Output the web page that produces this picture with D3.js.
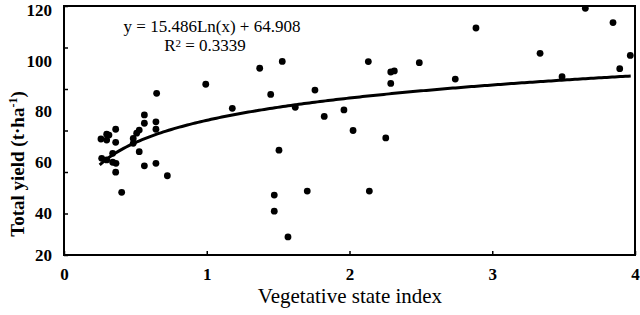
<!DOCTYPE html>
<html>
<head>
<meta charset="utf-8">
<script src="https://cdn.jsdelivr.net/npm/d3@7"></script>
<style>
  html, body { margin: 0; padding: 0; background: #fff; }
  svg { display: block; }
  text { font-family: "Liberation Serif", "Times New Roman", serif; fill: #000; }
</style>
</head>
<body>
<script>
// ---- data ----
const xValues = [
  0.259, 0.299, 0.315, 0.299, 0.362, 0.362, 0.264, 0.299, 0.341, 0.341,
  0.364, 0.362, 0.404, 0.485, 0.485, 0.509, 0.527, 0.563, 0.563, 0.644,
  0.644, 0.527, 0.563, 0.644, 0.724, 0.649,
  0.993, 1.179, 1.371, 1.529, 1.448, 1.620, 1.758, 1.823, 1.961, 2.025,
  2.254, 2.132, 2.289, 2.314, 2.289, 1.506, 1.473, 1.473, 1.704, 2.139,
  1.569, 2.489, 2.741, 2.886, 3.335, 3.489, 3.652, 3.846, 3.893, 3.967
];
const yValues = [
  55.9, 58.2, 57.8, 55.4, 60.6, 54.3, 46.6, 45.8, 49.0, 44.7,
  44.2, 39.9, 30.2, 53.8, 56.2, 58.7, 60.2, 63.5, 67.5, 64.2,
  60.6, 49.8, 43.0, 44.2, 38.2, 77.9,
  82.3, 70.7, 90.0, 93.3, 77.4, 71.2, 79.5, 66.8, 69.9, 60.0,
  56.4, 93.2, 88.2, 88.7, 82.7, 50.5, 28.9, 21.1, 30.8, 30.8,
  8.7, 92.7, 84.8, 109.4, 97.2, 85.9, 118.9, 112.0, 89.8, 96.2
];
const xTicks = [0, 1, 2, 3, 4];
const yTicks = [0, 20, 40, 60, 80, 100, 120];
const yTickLabels = [20, 40, 60, 80, 100, 120];
const fitSlope = 15.486;
const fitIntercept = 64.908;
const fitXRange = [0.25, 3.97];
const equationText = "y = 15.486Ln(x) + 64.908";
const r2Value = "0.3339";

// ---- layout ----
const W = 640, H = 315;
const mLeft = 64, mRight = 635, mTop = 6, mBottom = 255;

const svg = d3.select("body").append("svg").attr("width", W).attr("height", H);

const x = d3.scaleLinear().domain([0, 4]).range([mLeft, mRight]);
const y = d3.scaleLinear().domain([0, 120]).range([mBottom, mTop]);
// printed tick labels sit at their own positions in the reference
const yLab = d3.scaleLinear().domain([20, 40, 120]).range([255, 213, 10]);

// frame
svg.append("rect")
  .attr("x", mLeft).attr("y", mTop)
  .attr("width", mRight - mLeft).attr("height", mBottom - mTop)
  .attr("fill", "none").attr("stroke", "#000").attr("stroke-width", 2);

// inward tick marks
const gy = svg.append("g").attr("transform", `translate(${mLeft},0)`)
  .call(d3.axisLeft(y).tickValues(yTicks).tickSize(-4).tickFormat(""));
gy.select(".domain").remove();
gy.selectAll(".tick line").attr("stroke", "#000").attr("stroke-width", 1.5);

const gx = svg.append("g").attr("transform", `translate(0,${mBottom})`)
  .call(d3.axisBottom(x).tickValues(xTicks).tickSize(-4).tickFormat(""));
gx.select(".domain").remove();
gx.selectAll(".tick line").attr("stroke", "#000").attr("stroke-width", 1.5);

// y tick labels
const gyl = svg.append("g").attr("transform", `translate(${mLeft},0)`)
  .call(d3.axisLeft(yLab).tickValues(yTickLabels).tickSize(0).tickPadding(12));
gyl.select(".domain").remove();
gyl.selectAll("text")
  .style("font-family", '"Liberation Serif", "Times New Roman", serif')
  .style("font-size", "17px").style("font-weight", "bold").attr("fill", "#000");

// x tick labels
const gxl = svg.append("g").attr("transform", `translate(0,${mBottom})`)
  .call(d3.axisBottom(x).tickValues(xTicks).tickSize(0).tickPadding(13).tickFormat(d3.format("d")));
gxl.select(".domain").remove();
gxl.selectAll("text")
  .style("font-family", '"Liberation Serif", "Times New Roman", serif')
  .style("font-size", "17px").style("font-weight", "bold").attr("fill", "#000");

// trend line from the printed equation
const fitXs = d3.range(0, 201).map(i => fitXRange[0] + (fitXRange[1] - fitXRange[0]) * i / 200);
const line = d3.line().x(d => x(d)).y(d => y(fitSlope * Math.log(d) + fitIntercept));
svg.append("path").datum(fitXs)
  .attr("d", line).attr("fill", "none")
  .attr("stroke", "#000").attr("stroke-width", 3);

// points
svg.append("g").selectAll("circle")
  .data(xValues.map((v, i) => [v, yValues[i]]))
  .join("circle")
  .attr("cx", d => x(d[0])).attr("cy", d => y(d[1]))
  .attr("r", 3.4).attr("fill", "#000");

// equation
svg.append("text").attr("x", 212).attr("y", 32)
  .attr("text-anchor", "middle").style("font-size", "17px")
  .text(equationText);
const r2 = svg.append("text").attr("x", 205).attr("y", 51)
  .attr("text-anchor", "middle").style("font-size", "17px");
r2.append("tspan").text("R");
r2.append("tspan").text("2").style("font-size", "11px").attr("dy", -4);
r2.append("tspan").text(" = " + r2Value).attr("dy", 4);

// axis titles
svg.append("text").attr("x", 350).attr("y", 303)
  .attr("text-anchor", "middle").style("font-size", "21px")
  .text("Vegetative state index");

const yt = svg.append("text")
  .attr("transform", "translate(24,164) rotate(-90)")
  .attr("text-anchor", "middle")
  .style("font-size", "19px").style("font-weight", "bold");
yt.append("tspan").text("Total yield (t·ha");
yt.append("tspan").text("-1").style("font-size", "12px").attr("dy", -7);
yt.append("tspan").text(")").attr("dy", 7);
</script>
</body>
</html>
